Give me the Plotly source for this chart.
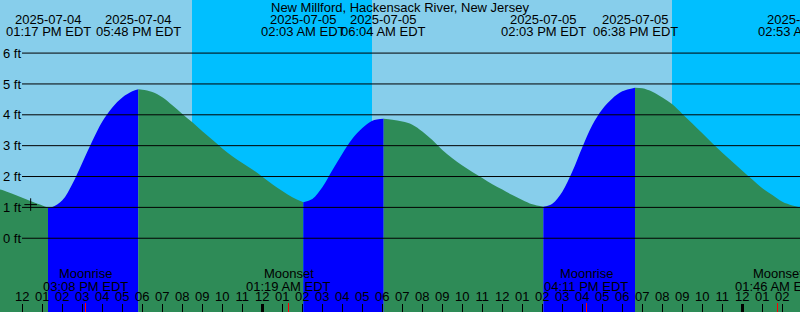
import plotly.graph_objects as go
import pandas as pd

title_text = "New Millford, Hackensack River, New Jersey"

# tide curve readings (ft), half-hourly
tide_times = [
    "2025-07-04 10:53", "2025-07-04 11:00", "2025-07-04 11:30", "2025-07-04 12:00",
    "2025-07-04 12:30", "2025-07-04 13:00",
    "2025-07-04 13:30", "2025-07-04 14:00", "2025-07-04 14:30", "2025-07-04 15:00",
    "2025-07-04 15:30", "2025-07-04 16:00", "2025-07-04 16:30", "2025-07-04 17:00",
    "2025-07-04 17:30",
    "2025-07-04 18:00", "2025-07-04 18:30", "2025-07-04 19:00", "2025-07-04 19:30",
    "2025-07-04 20:00", "2025-07-04 20:30", "2025-07-04 21:00", "2025-07-04 21:30",
    "2025-07-04 22:00", "2025-07-04 22:30", "2025-07-04 23:00", "2025-07-04 23:30",
    "2025-07-05 00:00", "2025-07-05 00:30", "2025-07-05 01:00", "2025-07-05 01:30",
    "2025-07-05 02:30", "2025-07-05 03:00", "2025-07-05 03:30", "2025-07-05 04:00",
    "2025-07-05 04:30", "2025-07-05 05:00", "2025-07-05 05:30",
    "2025-07-05 06:30", "2025-07-05 07:00", "2025-07-05 07:30", "2025-07-05 08:00",
    "2025-07-05 08:30", "2025-07-05 09:00", "2025-07-05 09:30", "2025-07-05 10:00",
    "2025-07-05 10:30", "2025-07-05 11:00", "2025-07-05 11:30", "2025-07-05 12:00",
    "2025-07-05 12:30", "2025-07-05 13:00", "2025-07-05 13:30",
    "2025-07-05 14:30", "2025-07-05 15:00", "2025-07-05 15:30", "2025-07-05 16:00",
    "2025-07-05 16:30", "2025-07-05 17:00", "2025-07-05 17:30", "2025-07-05 18:00",
    "2025-07-05 19:00", "2025-07-05 19:30", "2025-07-05 20:00", "2025-07-05 20:30",
    "2025-07-05 21:00", "2025-07-05 21:30", "2025-07-05 22:00", "2025-07-05 22:30",
    "2025-07-05 23:00", "2025-07-05 23:30", "2025-07-06 00:00", "2025-07-06 00:30",
    "2025-07-06 01:00", "2025-07-06 01:30", "2025-07-06 02:00", "2025-07-06 02:30",
]
tide_heights = [
    1.58, 1.56, 1.44, 1.31,
    1.18, 1.06,
    1.01, 1.23, 1.76, 2.45,
    3.15, 3.78, 4.24, 4.56,
    4.76,
    4.81, 4.74, 4.57, 4.31,
    4.03, 3.76, 3.47, 3.19,
    2.91, 2.66, 2.44, 2.23,
    1.99, 1.75, 1.53, 1.33,
    1.27, 1.65, 2.20, 2.74,
    3.22, 3.57, 3.81,
    3.84, 3.78, 3.68, 3.46,
    3.18, 2.86, 2.59, 2.36,
    2.15, 1.95, 1.75, 1.58,
    1.40, 1.24, 1.10,
    1.12, 1.51, 2.16, 2.95,
    3.67, 4.18, 4.53, 4.76,
    4.86, 4.75, 4.56, 4.34,
    4.03, 3.72, 3.40, 3.08,
    2.77, 2.48, 2.19, 1.90,
    1.62, 1.40, 1.18, 1.06,
]

# high / low tides
extreme_times = ["2025-07-04 13:17", "2025-07-04 17:48", "2025-07-05 02:03",
                 "2025-07-05 06:04", "2025-07-05 14:03", "2025-07-05 18:38",
                 "2025-07-06 02:53"]
extreme_heights = [0.99, 4.83, 1.17, 3.87, 1.02, 4.88, 1.00]

# night intervals (sunset -> sunrise)
night_starts = ["2025-07-04 20:29", "2025-07-05 20:29"]
night_ends = ["2025-07-05 05:29", "2025-07-06 05:29"]

# moon events
moon_times = ["2025-07-04 15:08", "2025-07-05 01:19", "2025-07-05 16:11", "2025-07-06 01:46"]
moon_labels = ["Moonrise", "Moonset", "Moonrise", "Moonset"]

midnights = ["2025-07-05 00:00", "2025-07-06 00:00"]

now_time = ["2025-07-04 12:25"]
now_height = [1.09]

ft_ticks = [0, 1, 2, 3, 4, 5, 6]
ft_labels = [f"{v} ft" for v in ft_ticks]

x_range = ["2025-07-04 10:53", "2025-07-06 02:53"]
y_range = [-2.39, 7.72]

FONT = "Liberation Sans"
DAY = "#87CEEB"
NIGHT = "#00BFFF"
RISE = "#0000FF"
FALL = "#2E8B57"

# combine curve data
df = pd.DataFrame({
    "t": pd.to_datetime(tide_times + extreme_times),
    "h": tide_heights + extreme_heights,
}).sort_values("t").reset_index(drop=True)

bounds = [df["t"].iloc[0]] + list(pd.to_datetime(extreme_times))
bound_h = [df["h"].iloc[0]] + extreme_heights

fig = go.Figure()
for i in range(len(bounds) - 1):
    a, b = bounds[i], bounds[i + 1]
    seg = df[(df["t"] >= a) & (df["t"] <= b)]
    color = RISE if bound_h[i + 1] > bound_h[i] else FALL
    fig.add_trace(go.Scatter(x=[a, b], y=[y_range[0], y_range[0]], mode="lines",
                             line=dict(width=0), hoverinfo="skip", showlegend=False))
    fig.add_trace(go.Scatter(x=seg["t"], y=seg["h"], mode="lines",
                             line=dict(width=0, color=color, shape="spline", smoothing=1),
                             fill="tonexty", fillcolor=color,
                             hoverinfo="skip", showlegend=False))

fig.add_trace(go.Scatter(x=pd.to_datetime(now_time), y=now_height, mode="markers",
                         marker=dict(symbol="cross-thin", size=9,
                                     line=dict(width=1, color="black")),
                         hoverinfo="skip", showlegend=False))

# invisible traces for tick-only overlay axes
fig.add_trace(go.Scatter(x=pd.to_datetime(midnights), y=[None, None], xaxis="x2",
                         mode="markers", showlegend=False, hoverinfo="skip"))
fig.add_trace(go.Scatter(x=pd.to_datetime(moon_times), y=[None] * 4, xaxis="x3",
                         mode="markers", showlegend=False, hoverinfo="skip"))

shapes = []
for s, e in zip(night_starts, night_ends):
    shapes.append(dict(type="rect", xref="x", yref="paper", x0=s, x1=e, y0=0, y1=1,
                       fillcolor=NIGHT, line=dict(width=0), layer="below"))
for v in ft_ticks:
    shapes.append(dict(type="line", xref="paper", yref="y", x0=22 / 800, x1=1,
                       y0=v, y1=v, line=dict(color="black", width=1), layer="above"))

ann = []
ann.append(dict(text=title_text, xref="paper", yref="paper", x=0.5, y=1 - 7.3 / 312,
                xanchor="center", yanchor="middle", showarrow=False,
                font=dict(family=FONT, size=13, color="black")))
for t in pd.to_datetime(extreme_times):
    ann.append(dict(text=t.strftime("%Y-%m-%d"), xref="x", yref="paper", x=t,
                    y=1 - 19.3 / 312, xanchor="center", yanchor="middle", showarrow=False,
                    font=dict(family=FONT, size=13, color="black")))
    ann.append(dict(text=t.strftime("%I:%M %p EDT"), xref="x", yref="paper", x=t,
                    y=1 - 31.7 / 312, xanchor="center", yanchor="middle", showarrow=False,
                    font=dict(family=FONT, size=13, color="black")))
for t, lab in zip(pd.to_datetime(moon_times), moon_labels):
    ann.append(dict(text=lab, xref="x", yref="paper", x=t, y=1 - 273.3 / 312,
                    xanchor="center", yanchor="middle", showarrow=False,
                    font=dict(family=FONT, size=13, color="black")))
    ann.append(dict(text=t.strftime("%I:%M %p EDT"), xref="x", yref="paper", x=t,
                    y=1 - 286 / 312, xanchor="center", yanchor="middle", showarrow=False,
                    font=dict(family=FONT, size=13, color="black")))

common_x = dict(type="date", showgrid=False, zeroline=False, showline=False, fixedrange=True)
fig.update_layout(
    width=800, height=312, margin=dict(l=0, r=0, t=0, b=0),
    paper_bgcolor=DAY, plot_bgcolor=DAY,
    font=dict(family=FONT, size=13, color="black"),
    xaxis=dict(range=x_range, tick0="2025-07-04 00:00", dtick=3600000, tickformat="%I",
               ticks="inside", ticklen=8, tickwidth=1, tickcolor="black",
               ticklabelposition="inside",
               tickfont=dict(family=FONT, size=13, color="black"),
               **common_x),
    xaxis2=dict(overlaying="x", matches="x", anchor="y", side="bottom",
                tickmode="array", tickvals=midnights, ticks="inside", ticklen=8,
                tickwidth=3, tickcolor="black", showticklabels=False, **common_x),
    xaxis3=dict(overlaying="x", matches="x", anchor="y", side="bottom",
                tickmode="array", tickvals=moon_times, ticks="inside", ticklen=9,
                tickwidth=1, tickcolor="red", showticklabels=False, **common_x),
    yaxis=dict(range=y_range, tickmode="array", tickvals=ft_ticks, ticktext=ft_labels,
               ticks="", ticklabelposition="inside", showgrid=False, zeroline=False,
               showline=False, fixedrange=True,
               tickfont=dict(family=FONT, size=13, color="black")),
    shapes=shapes, annotations=ann,
)

fig.write_html("out.html")
